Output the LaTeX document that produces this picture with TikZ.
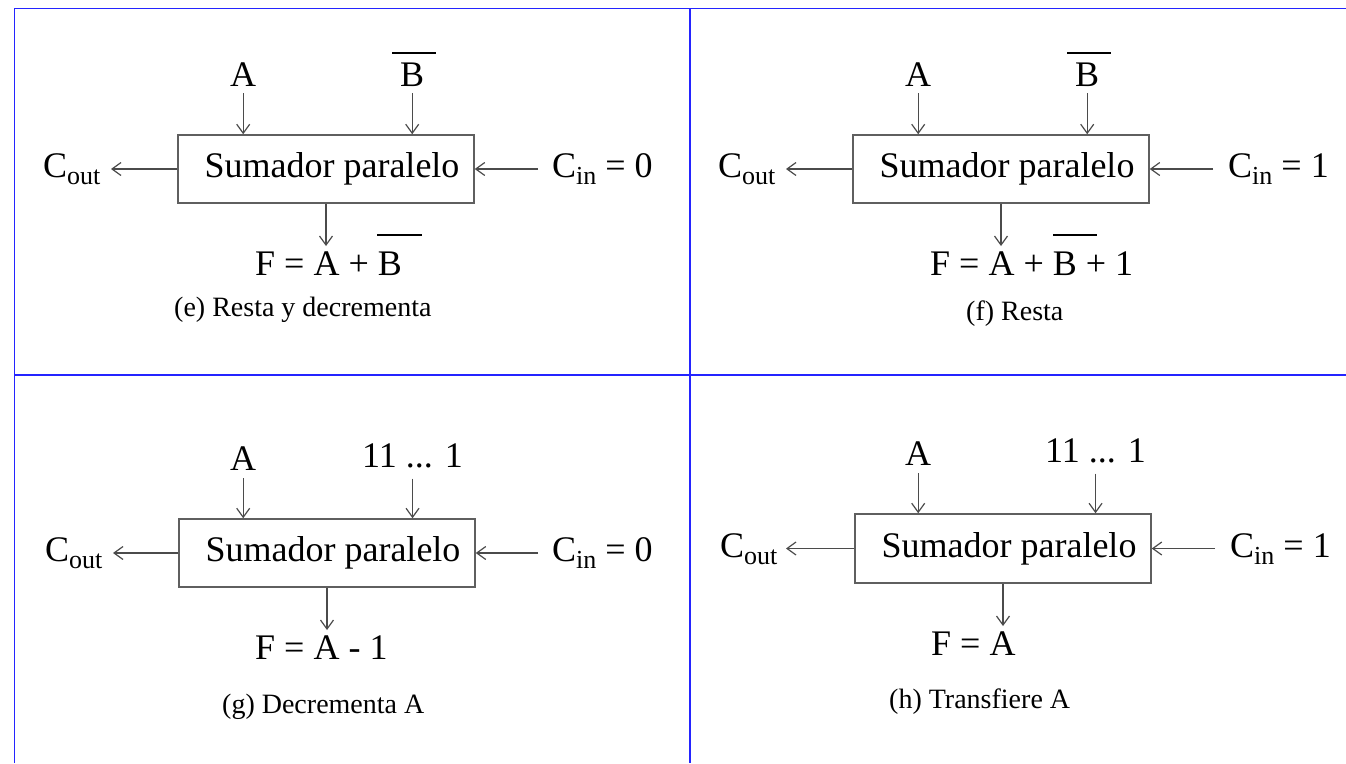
\documentclass[tikz,border=0pt]{standalone}
\usepackage{fontspec}
\setmainfont{Liberation Serif}
\usetikzlibrary{arrows.meta}
\definecolor{frameblue}{RGB}{36,36,255}
\definecolor{boxgray}{RGB}{95,95,95}
\definecolor{arrgray}{RGB}{75,75,75}
\newcommand{\subtx}[1]{\raisebox{-7pt}{\fontsize{26}{28}\selectfont #1}}
\begin{document}
\begin{tikzpicture}[x=1pt,y=-1pt,
  lbl/.style={inner sep=0pt, anchor=base west, font=\fontsize{36}{40}\selectfont},
  captxt/.style={inner sep=0pt, anchor=base west, font=\fontsize{28}{30}\selectfont},
  adder/.style={draw=boxgray, line width=1.5pt, minimum width=296pt, minimum height=68pt, inner sep=0pt, font=\fontsize{36}{40}\selectfont},
  arr/.style={draw=arrgray, line width=1.2pt, -{Straight Barb[length=9pt,width=13pt]}},
  frame/.style={draw=frameblue, line width=1.6pt},
  bar/.style={line width=1.5pt}
]
\useasboundingbox (0,0) rectangle (1346,763);
% frame
\draw[frame] (14.5,763) -- (14.5,8.5) -- (1346,8.5);
\draw[frame] (690,8.5) -- (690,763);
\draw[frame] (14.5,375) -- (1346,375);

% ---------- (e) ----------
\node[adder] (boxE) at (326,169) {\hspace*{12pt}Sumador paralelo};
\node[lbl] (aE) at (230,86) {A};
\node[lbl] (bE) at (400,86) {B};
\draw[bar] (392,53) -- (436,53);
\draw[arr] ([yshift=-7pt]aE.south) -- (aE.south |- boxE.north);
\draw[arr] ([yshift=-7pt]bE.south) -- (bE.south |- boxE.north);
\node[lbl] (coE) at (43,177) {C\subtx{out}};
\coordinate (coTipE) at (111,169);
\draw[arr] (boxE.west) -- (coTipE);
\node[lbl] (ciE) at (552,177) {C\subtx{in} = 0};
\coordinate (ciTailE) at (538,169);
\draw[arr] (ciTailE) -- (boxE.east);
\node[lbl] (fE) at (255,275) {F = A + B};
\draw[bar] (377,235) -- (422,235);
\draw[arr, shorten >=5pt] (boxE.south) -- (boxE.south |- fE.north);
\node[captxt] (capE) at (174,316) {(e) Resta y decrementa};

% ---------- (f) ----------
\node[adder] (boxF) at (1001,169) {\hspace*{12pt}Sumador paralelo};
\node[lbl] (aF) at (905,86) {A};
\node[lbl] (bF) at (1075,86) {B};
\draw[bar] (1067,53) -- (1111,53);
\draw[arr] ([yshift=-7pt]aF.south) -- (aF.south |- boxF.north);
\draw[arr] ([yshift=-7pt]bF.south) -- (bF.south |- boxF.north);
\node[lbl] (coF) at (718,177) {C\subtx{out}};
\coordinate (coTipF) at (786,169);
\draw[arr] (boxF.west) -- (coTipF);
\node[lbl] (ciF) at (1228,177) {C\subtx{in} = 1};
\coordinate (ciTailF) at (1213,169);
\draw[arr] (ciTailF) -- (boxF.east);
\node[lbl] (fF) at (930,275) {F = A + B + 1};
\draw[bar] (1053,235) -- (1097,235);
\draw[arr, shorten >=5pt] (boxF.south) -- (boxF.south |- fF.north);
\node[captxt] (capF) at (966,320) {(f) Resta};

% ---------- (g) ----------
\node[adder] (boxG) at (327,553) {\hspace*{12pt}Sumador paralelo};
\node[lbl] (aG) at (230,470) {A};
\node[lbl] (bG) at (362,467) {11 ... 1};
\draw[arr] ([yshift=-8pt]aG.south) -- (aG.south |- boxG.north);
\draw[arr] ([yshift=-11pt]bG.south) -- (bG.south |- boxG.north);
\node[lbl] (coG) at (45,561) {C\subtx{out}};
\coordinate (coTipG) at (113,553);
\draw[arr] (boxG.west) -- (coTipG);
\node[lbl] (ciG) at (552,561) {C\subtx{in} = 0};
\coordinate (ciTailG) at (538,553);
\draw[arr] (ciTailG) -- (boxG.east);
\node[lbl] (fG) at (255,659) {F = A - 1};
\draw[arr, shorten >=5pt] (boxG.south) -- (boxG.south |- fG.north);
\node[captxt] (capG) at (222,713) {(g) Decrementa A};

% ---------- (h) ----------
\node[adder, minimum height=69pt] (boxH) at (1003,548.5) {\hspace*{12pt}Sumador paralelo};
\node[lbl] (aH) at (905,465) {A};
\node[lbl] (bH) at (1045,462) {11 ... 1};
\draw[arr] ([yshift=-8pt]aH.south) -- (aH.south |- boxH.north);
\draw[arr] ([yshift=-11pt]bH.south) -- (bH.south |- boxH.north);
\node[lbl] (coH) at (720,557) {C\subtx{out}};
\coordinate (coTipH) at (786,548.5);
\draw[arr] (boxH.west) -- (coTipH);
\node[lbl] (ciH) at (1230,557) {C\subtx{in} = 1};
\coordinate (ciTailH) at (1215,548.5);
\draw[arr] (ciTailH) -- (boxH.east);
\node[lbl] (fH) at (931,655) {F = A};
\draw[arr, shorten >=5pt] (boxH.south) -- (boxH.south |- fH.north);
\node[captxt] (capH) at (889,708) {(h) Transfiere A};
\end{tikzpicture}
\end{document}
